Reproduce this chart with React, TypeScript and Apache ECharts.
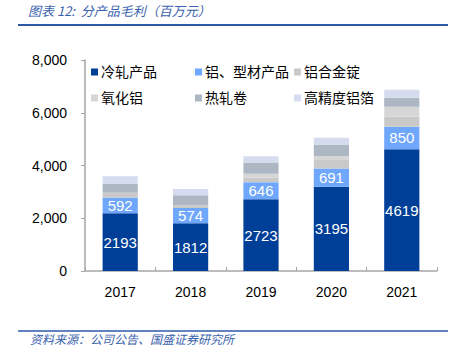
import React, { useEffect, useRef } from "react";
import * as echarts from "echarts";

const years = ["2017", "2018", "2019", "2020", "2021"];
const coldRolled = [2193, 1812, 2723, 3195, 4619];
const profileProducts = [592, 574, 646, 691, 850];
const alloyIngot = [180, 110, 165, 350, 380];
const alumina = [0, 0, 150, 120, 380];
const hotRolledCoil = [330, 380, 430, 420, 340];
const precisionFoil = [300, 230, 240, 280, 300];
const yTicks = [0, 2000, 4000, 6000, 8000];

const seriesNames = ["冷轧产品", "铝、型材产品", "铝合金锭", "氧化铝", "热轧卷", "高精度铝箔"];
const seriesColors = ["#003f98", "#6ea7fb", "#c9c9c9", "#d6d6d6", "#acb7c3", "#d5dcef"];
const seriesData = [coldRolled, profileProducts, alloyIngot, alumina, hotRolledCoil, precisionFoil];

const FONT = "'Liberation Sans', 'Noto Sans CJK SC', sans-serif";

export default function App() {
  const ref = useRef<HTMLDivElement>(null);
  useEffect(() => {
    if (!ref.current) return;
    const chart = echarts.init(ref.current, undefined, { renderer: "svg" });
    const legendPos = [
      [86, 60], [190, 60], [289, 60],
      [86, 86], [190, 86], [289, 86],
    ];
    chart.setOption({
      animation: false,
      textStyle: { fontFamily: FONT },
      grid: { left: 85, right: 15, top: 60, bottom: 86, containLabel: false },
      legend: seriesNames.map((n, i) => ({
        data: [n],
        left: legendPos[i][0],
        top: legendPos[i][1],
        itemWidth: 7,
        itemHeight: 7,
        icon: "rect",
        itemGap: 4,
        textStyle: { fontSize: 14, color: "#000", fontFamily: FONT, padding: [0, 0, 0, -2] },
      })),
      xAxis: {
        type: "category",
        data: years,
        axisLine: { lineStyle: { color: "#a6a6a6", width: 1.5 } },
        axisTick: { show: true, inside: true, length: 4, lineStyle: { color: "#a6a6a6" } },
        axisLabel: { fontSize: 14, color: "#000", margin: 14, fontFamily: FONT },
      },
      yAxis: {
        type: "value",
        min: 0,
        max: 8000,
        interval: 2000,
        axisLine: { show: true, lineStyle: { color: "#a6a6a6", width: 1.5 } },
        axisTick: { show: true, length: 4, lineStyle: { color: "#a6a6a6" } },
        splitLine: { show: false },
        axisLabel: {
          fontSize: 14,
          color: "#000",
          margin: 18,
          fontFamily: FONT,
          formatter: (v: number) => (yTicks.includes(v) ? v.toLocaleString("en-US") : ""),
        },
      },
      series: seriesNames.map((n, i) => ({
        name: n,
        type: "bar",
        stack: "total",
        barWidth: "50%",
        data: seriesData[i],
        itemStyle: { color: seriesColors[i] },
        label: {
          show: i < 2,
          position: "inside",
          color: "#fff",
          fontSize: 15,
          fontFamily: FONT,
        },
      })),
      graphic: [
        {
          type: "text",
          left: 28,
          top: 4,
          style: {
            text: "图表 12:  分产品毛利（百万元）",
            fill: "#3a62ad",
            font: "italic 13px 'Noto Sans CJK SC', sans-serif",
          },
        },
        {
          type: "line",
          shape: { x1: 18, y1: 25, x2: 448, y2: 25 },
          style: { stroke: "#2d5aa8", lineWidth: 2 },
        },
        {
          type: "line",
          shape: { x1: 18, y1: 331, x2: 448, y2: 331 },
          style: { stroke: "#2d5aa8", lineWidth: 1.5 },
        },
        {
          type: "text",
          left: 30,
          top: 332,
          style: {
            text: "资料来源：公司公告、国盛证券研究所",
            fill: "#3a62ad",
            font: "italic 12px 'Noto Sans CJK SC', sans-serif",
          },
        },
      ],
    });
    return () => chart.dispose();
  }, []);
  return (
    <div
      ref={ref}
      style={{ position: "fixed", left: 0, top: 0, width: 452, height: 357, background: "#fff" }}
    />
  );
}
